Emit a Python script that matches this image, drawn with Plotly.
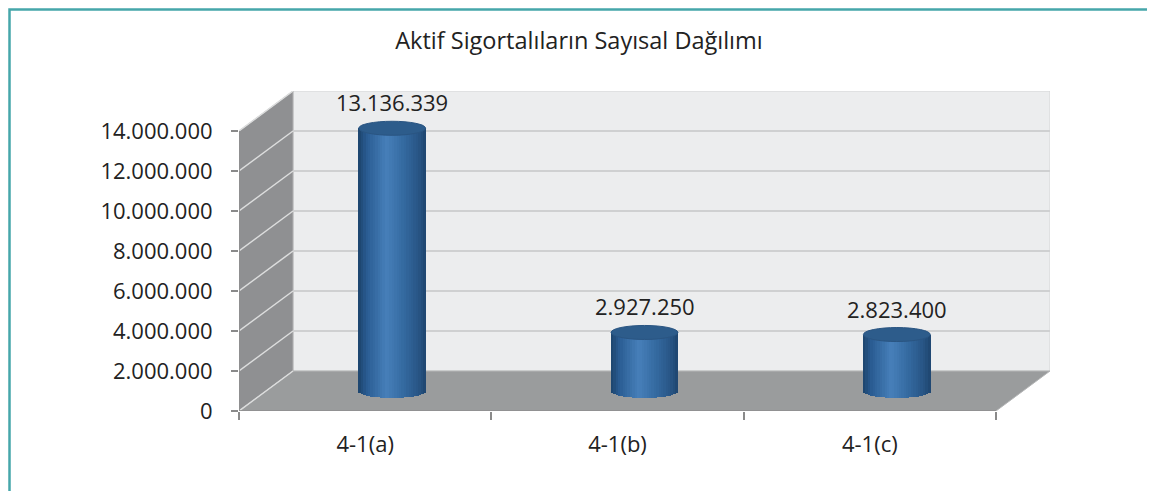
import numpy as np
import plotly.graph_objects as go

# ---- data ----
categories = ["4-1(a)", "4-1(b)", "4-1(c)"]
values = [13136339, 2927250, 2823400]
y_ticks = [0, 2000000, 4000000, 6000000, 8000000, 10000000, 12000000, 14000000]
title_text = "Aktif Sigortalıların Sayısal Dağılımı"

def fmt(v):
    return f"{v:,}".replace(",", ".")

# ---- 3D illusion constants (style) ----
YMAX = y_ticks[-1]
DX = 0.214          # depth offset in category units
DY = 2000000        # depth offset in value units
CYL_W = 0.265       # cylinder width in category units
RY = 350000         # ellipse half-height in value units
NSTRIP = 28
FONT = "Open Sans"
TXT = "#222222"

W, H = 1155, 491
ML, MR, MT, MB = 231, 113, 83, 88
PW, PH = W - ML - MR, H - MT - MB

fig = go.Figure()

# cylinder bodies built from vertical strips (gradient shading)
stops_u = [0.0, 0.12, 0.42, 0.7, 0.9, 1.0]
stops_c = [(0x1d, 0x44, 0x6c), (0x2a, 0x5c, 0x92), (0x47, 0x80, 0xba),
           (0x33, 0x68, 0x9e), (0x28, 0x55, 0x85), (0x1f, 0x46, 0x70)]
stops_c = np.array(stops_c, dtype=float)

xs, ys, bases, widths, colors = [], [], [], [], []
sw = CYL_W / NSTRIP
for i, v in enumerate(values):
    cx = i + DX / 2
    top = v + DY / 2
    for k in range(NSTRIP):
        u = (k + 0.5) / NSTRIP
        uu = 2 * u - 1
        base = DY / 2 - RY * np.sqrt(max(0.0, 1 - uu * uu))
        rgb = [np.interp(u, stops_u, stops_c[:, c]) for c in range(3)]
        xs.append(cx - CYL_W / 2 + (k + 0.5) * sw)
        bases.append(base)
        ys.append(top - base)
        widths.append(sw * 1.25)
        colors.append("rgb(%d,%d,%d)" % tuple(int(c) for c in rgb))

fig.add_trace(go.Bar(x=xs, y=ys, base=bases, width=widths,
                     marker=dict(color=colors, line=dict(width=0)),
                     hoverinfo="skip", showlegend=False))

# invisible trace for the secondary x-axis (category boundary ticks)
fig.add_trace(go.Scatter(x=[-0.5, 2.5], y=[0, 0], xaxis="x2", mode="markers",
                         marker=dict(opacity=0), hoverinfo="skip", showlegend=False))

shapes = []
# back wall
shapes.append(dict(type="rect", xref="x", yref="y", x0=-0.5 + DX, x1=2.5 + DX,
                   y0=DY, y1=YMAX + DY, fillcolor="#ecedee",
                   line=dict(color="#d4d5d6", width=1), layer="below"))
# side wall
shapes.append(dict(type="path", xref="x", yref="y",
                   path=f"M {-0.5},{0} L {-0.5 + DX},{DY} L {-0.5 + DX},{YMAX + DY} L {-0.5},{YMAX} Z",
                   fillcolor="#8f9092", line=dict(color="#b0b1b2", width=1), layer="below"))
# floor
shapes.append(dict(type="path", xref="x", yref="y",
                   path=f"M {-0.5},{0} L {2.5},{0} L {2.5 + DX},{DY} L {-0.5 + DX},{DY} Z",
                   fillcolor="#9a9c9d", line=dict(color="#b5b6b7", width=1), layer="below"))
# gridlines on back wall and side wall
for t in y_ticks:
    if 0 < t < YMAX:
        shapes.append(dict(type="line", xref="x", yref="y", x0=-0.5 + DX, x1=2.5 + DX,
                           y0=t + DY, y1=t + DY, line=dict(color="#cfd0d1", width=2), layer="below"))
    shapes.append(dict(type="line", xref="x", yref="y", x0=-0.5, x1=-0.5 + DX,
                       y0=t, y1=t + DY, line=dict(color="#dcdddd", width=1.5), layer="below"))
# front axis lines
shapes.append(dict(type="line", xref="x", yref="y", x0=-0.5, x1=2.5, y0=0, y1=0,
                   line=dict(color="#8a8a8a", width=1.5)))
shapes.append(dict(type="line", xref="x", yref="y", x0=-0.5, x1=-0.5, y0=0, y1=YMAX,
                   line=dict(color="#8a8a8a", width=1.5)))
# cylinder tops
for i, v in enumerate(values):
    cx = i + DX / 2
    top = v + DY / 2
    shapes.append(dict(type="circle", xref="x", yref="y",
                       x0=cx - CYL_W / 2, x1=cx + CYL_W / 2, y0=top - RY, y1=top + RY,
                       fillcolor="#2d5c8b", line=dict(color="#2a5582", width=1)))
# outer frame (teal border)
shapes.append(dict(type="rect", xref="paper", yref="paper",
                   x0=(-ML + 1.5) / PW, x1=(W - ML + 30) / PW,
                   y0=-(MB + 30) / PH, y1=1 + (MT - 1.5) / PH,
                   line=dict(color="#46a6aa", width=2.5), fillcolor="rgba(0,0,0,0)"))

annotations = []
for i, v in enumerate(values):
    annotations.append(dict(x=i + DX / 2, y=v + DY / 2, xref="x", yref="y", text=fmt(v),
                            showarrow=False, yshift=26, yanchor="middle",
                            font=dict(family=FONT, size=22, color=TXT)))

fig.update_layout(
    width=W, height=H,
    margin=dict(l=ML, r=MR, t=MT, b=MB),
    paper_bgcolor="white", plot_bgcolor="white",
    barmode="overlay", bargap=0,
    title=dict(text=title_text, x=571 / W, xref="container", xanchor="center",
               y=1 - 33 / H, yanchor="middle",
               font=dict(family=FONT, size=23.5, color=TXT)),
    shapes=shapes, annotations=annotations,
    showlegend=False,
    xaxis=dict(range=[-0.5, 2.5 + DX], tickvals=[0, 1, 2], ticktext=categories,
               showgrid=False, zeroline=False, showline=False, ticks="",
               ticklabelstandoff=18,
               tickfont=dict(family=FONT, size=22, color=TXT)),
    xaxis2=dict(range=[-0.5, 2.5 + DX], overlaying="x", anchor="y", side="bottom",
                tickvals=[-0.5, 0.5, 1.5, 2.5], ticks="outside", ticklen=8,
                tickcolor="#8a8a8a", tickwidth=1.5, showticklabels=False,
                showgrid=False, zeroline=False, showline=False),
    yaxis=dict(range=[0, YMAX + DY], tickvals=y_ticks, ticktext=[fmt(t) for t in y_ticks],
               showgrid=False, zeroline=False, showline=False, ticks="outside", ticklen=7,
               tickcolor="#8a8a8a", tickwidth=1.5, ticklabelstandoff=14,
               tickfont=dict(family=FONT, size=22, color=TXT)),
)

fig.write_html("out.html")
